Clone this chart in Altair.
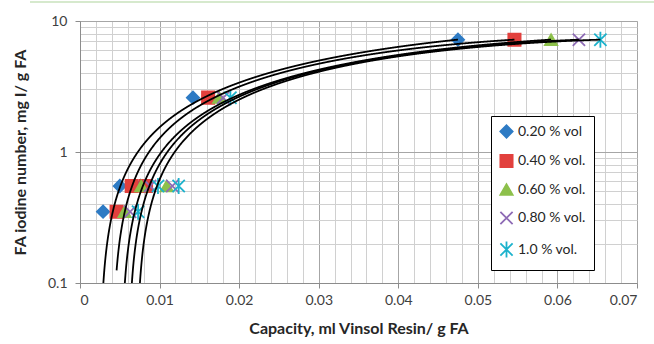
import altair as alt
import pandas as pd

series_names = ["0.20 % vol", "0.40 % vol.", "0.60 % vol.", "0.80 % vol.", "1.0 % vol."]
iodine = [0.35, 0.55, 0.55, 2.6, 7.2]
cap_020 = [0.0029, 0.0050, 0.0076, 0.0142, 0.0475]
cap_040 = [0.0046, 0.0065, 0.0083, 0.0161, 0.0546]
cap_060 = [0.0056, 0.0077, 0.0109, 0.0175, 0.0592]
cap_080 = [0.0063, 0.0088, 0.0116, 0.0180, 0.0627]
cap_100 = [0.0073, 0.0098, 0.0124, 0.0189, 0.0654]

x_ticks = [round(i * 0.002, 3) for i in range(36)]
y_ticks = [0.1, 0.2, 0.3, 0.4, 0.5, 0.6, 0.7, 0.8, 0.9,
           1, 2, 3, 4, 5, 6, 7, 8, 9, 10]

colors = ["#2E7BC4", "#E2403D", "#8DC04B", "#8E6BB5", "#1CB2CC"]
fills = ["#2E7BC4", "#E2403D", "#8DC04B", "transparent", "transparent"]
shapes = ["diamond", "square", "triangle-up",
          "M-1,-1L1,1M1,-1L-1,1",
          "M-1,-1L1,1M1,-1L-1,1M0,-1.3L0,1.3"]

rows = []
for name, caps in zip(series_names, [cap_020, cap_040, cap_060, cap_080, cap_100]):
    for c, v in zip(caps, iodine):
        rows.append({"series": name, "x": c, "y": v})
df = pd.DataFrame(rows)

FONT = "Lato"

x_major = "abs(datum.value*100 - round(datum.value*100)) < 1e-6"
y_major = "(datum.value == 0.1 || datum.value == 1 || datum.value == 10)"

x_enc = alt.X(
    "x:Q",
    scale=alt.Scale(domain=[0, 0.07], nice=False, zero=False),
    axis=alt.Axis(
        values=x_ticks,
        title="Capacity, ml Vinsol Resin/ g FA",
        labelExpr=f"{x_major} ? format(datum.value, '.2~f') : ''",
        labelOverlap=False,
        labelFontSize=14,
        labelFont=FONT,
        labelColor="#404040",
        labelPadding=5,
        titleFont=FONT,
        titleFontSize=16,
        titleFontWeight="bold",
        titleColor="#262626",
        titlePadding=13,
        gridColor={"condition": {"test": x_major, "value": "#a6a6a6"}, "value": "#d0d0d0"},
        tickOpacity={"condition": {"test": x_major, "value": 1}, "value": 0},
        tickColor="#8c8c8c",
        tickSize=5,
        domainColor="#8c8c8c",
    ),
)
y_enc = alt.Y(
    "y:Q",
    scale=alt.Scale(type="log", domain=[0.1, 10], nice=False),
    axis=alt.Axis(
        values=y_ticks,
        title="FA iodine number, mg I/ g FA",
        labelExpr=f"{y_major} ? format(datum.value, '~g') : ''",
        labelOverlap=False,
        labelFontSize=14,
        labelFont=FONT,
        labelColor="#404040",
        labelPadding=8,
        titleFont=FONT,
        titleFontSize=16,
        titleFontWeight="bold",
        titleColor="#262626",
        titlePadding=19,
        gridColor={"condition": {"test": y_major, "value": "#a6a6a6"}, "value": "#d0d0d0"},
        tickOpacity={"condition": {"test": y_major, "value": 1}, "value": 0},
        tickColor="#8c8c8c",
        tickSize=5,
        domainColor="#8c8c8c",
    ),
)

legend = alt.Legend(
    title=None,
    orient="none",
    legendX=411,
    legendY=95,
    strokeColor="black",
    fillColor="white",
    padding=8,
    rowPadding=8.5,
    labelFont=FONT,
    labelFontSize=14,
    labelColor="#262626",
    symbolSize=150,
    symbolStrokeWidth=1.8,
    labelOffset=4,
)

points = alt.Chart(df).mark_point(filled=False, size=150, strokeWidth=1.8, opacity=1).encode(
    x=x_enc,
    y=y_enc,
    color=alt.Color("series:N", scale=alt.Scale(domain=series_names, range=colors), legend=legend),
    fill=alt.Fill("series:N", scale=alt.Scale(domain=series_names, range=fills), legend=legend),
    shape=alt.Shape("series:N", scale=alt.Scale(domain=series_names, range=shapes), legend=legend),
)

curves = (
    alt.Chart(df)
    .transform_joinaggregate(xmin="min(x)", xmax="max(x)", groupby=["series"])
    .transform_regression("x", "y", method="poly", order=2,
                          groupby=["series", "xmin", "xmax"], params=True)
    .transform_calculate(
        sname="isValid(datum.series) ? datum.series : datum.keys[0]",
        lo="isValid(datum.xmin) ? datum.xmin : datum.keys[1]",
        hi="isValid(datum.xmax) ? datum.xmax : datum.keys[2]",
    )
    .transform_calculate(xs="sequence(datum.lo, datum.hi + 1e-9, (datum.hi - datum.lo) / 2000)")
    .transform_flatten(["xs"])
    .transform_calculate(x="datum.xs",
                         y="datum.coef[0] + datum.coef[1]*datum.xs + datum.coef[2]*datum.xs*datum.xs")
    .transform_filter("datum.y > 0.05")
    .mark_line(color="black", strokeWidth=1.8, clip=True)
    .encode(x=x_enc, y=y_enc, detail="sname:N", order="x:Q")
)

top_rule = alt.Chart(df).mark_rule(color="#d6e8cc", strokeWidth=1.5).encode(
    x=alt.value(-50), x2=alt.value(574), y=alt.value(-19)
)

chart = (
    alt.layer(points, curves, top_rule)
    .properties(width=557, height=262, autosize="none",
                padding={"left": 80, "top": 21, "right": 17, "bottom": 61})
    .configure_view(stroke=None)
    .configure(background="white")
)

chart.save("out.html", embed_options={"renderer": "svg", "actions": False})
